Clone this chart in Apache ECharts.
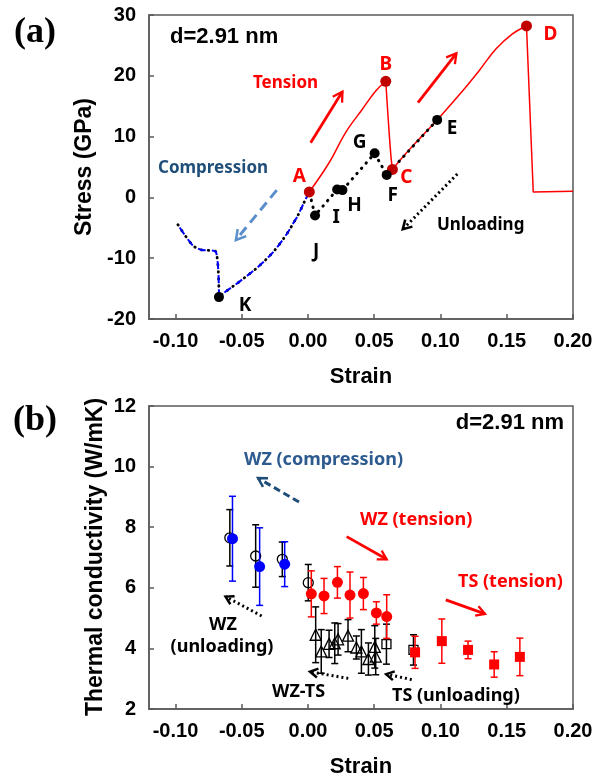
<!DOCTYPE html>
<html>
<head>
<meta charset="utf-8">
<script src="https://cdn.jsdelivr.net/npm/echarts@6/dist/echarts.min.js"></script>
<style>
  html, body { margin: 0; padding: 0; background: #fff; }
  #chart { width: 609px; height: 780px; }
</style>
</head>
<body>
<div id="chart"></div>
<script>
// ---------- panel (a): stress vs strain ----------
// tension branch: A -> B (0..5), B -> C drop (5..8), C -> E -> D (8..16), failure drop and tail (16..18)
const tensionStrain = [0.001, 0.0159, 0.0285, 0.041, 0.0511, 0.0587, 0.0605, 0.0625, 0.0637, 0.075, 0.0865, 0.0975, 0.1166, 0.129, 0.1418, 0.1543, 0.1649, 0.170, 0.20];
const tensionStress = [0.9, 5.7, 10.7, 14.5, 17.5, 19.1, 13.0, 7.0, 4.6, 7.5, 10.2, 12.75, 17.5, 20.8, 24.4, 26.9, 28.2, 0.9, 1.0];

// compression branch: A -> K (0..7), then the jump and tail (7..11)
const compStrain = [0.001, -0.0018, -0.0093, -0.0219, -0.0345, -0.0496, -0.0634, -0.0672, -0.0697, -0.081, -0.0874, -0.0987];
const compStress = [0.9, -0.3, -3.6, -7.8, -10.8, -13.5, -15.7, -16.4, -8.9, -8.6, -7.8, -4.3];

// unloading path E -> F -> G -> H -> I -> J -> A, then it follows the compression branch
const unloadStrain = [0.0975, 0.0594, 0.0503, 0.026, 0.022, 0.0053, 0.001];
const unloadStress = [12.75, 3.7, 7.25, 1.2, 1.3, -2.97, 0.9];

const redKeyNames = ['A', 'B', 'C', 'D'];
const redKeyStrain = [0.001, 0.0587, 0.0637, 0.1649];
const redKeyStress = [0.9, 19.1, 4.6, 28.2];

const blackKeyNames = ['E', 'F', 'G', 'H', 'I', 'J', 'K'];
const blackKeyStrain = [0.0975, 0.0594, 0.0503, 0.026, 0.022, 0.0053, -0.0672];
const blackKeyStress = [12.75, 3.7, 7.25, 1.2, 1.3, -2.97, -16.4];

// ---------- panel (b): thermal conductivity vs strain ----------
const wzCompStrain = [-0.057, -0.0365, -0.0176];
const wzCompK = [7.62, 6.70, 6.78];
const wzCompErr = [1.40, 1.28, 0.74];

const wzUnloadStrain = [-0.059, -0.0395, -0.0194, 0.0002];
const wzUnloadK = [7.65, 7.05, 6.94, 6.17];
const wzUnloadErr = [0.93, 1.03, 0.57, 0.60];

const wzTensStrain = [0.0025, 0.0121, 0.0222, 0.0317, 0.0418, 0.0516, 0.0594];
const wzTensK = [5.80, 5.73, 6.18, 5.76, 5.81, 5.17, 5.05];
const wzTensErr = [0.76, 0.58, 0.52, 0.76, 0.53, 0.37, 0.72];

const tsTensStrain = [0.0808, 0.101, 0.1208, 0.1405, 0.1599];
const tsTensK = [3.87, 4.24, 3.95, 3.47, 3.72];
const tsTensErr = [0.53, 0.73, 0.29, 0.42, 0.62];

const tsUnloadStrain = [0.0592, 0.0796];
const tsUnloadK = [4.14, 3.95];
const tsUnloadErr = [0.66, 0.50];

const wztsStrain = [0.0058, 0.010, 0.0159, 0.0202, 0.0227, 0.0302, 0.0365, 0.0403, 0.0456, 0.0504, 0.0511];
const wztsK = [4.45, 3.90, 4.15, 4.17, 4.30, 4.42, 4.03, 3.90, 3.65, 4.05, 3.73];
const wztsErr = [0.92, 0.72, 0.45, 0.67, 0.52, 0.53, 0.38, 0.72, 0.53, 0.70, 0.60];

// ---------- axes ----------
const strainTicks = [-0.10, -0.05, 0.00, 0.05, 0.10, 0.15, 0.20];

// ---------- annotation arrows [x1, y1, x2, y2] in data units ----------
const arrowsTensionA = [[0.002, 9.0, 0.026, 17.4], [0.083, 15.6, 0.112, 23.7]];
const arrowsCompA = [[-0.0236, 1.2, -0.0544, -7.0]];
const arrowsUnloadA = [[0.1127, 3.85, 0.0715, -5.25]];
const arrowsCompB = [[-0.0068, 8.83, -0.0377, 9.62]];
const arrowsTensB = [[0.0292, 7.69, 0.0594, 6.94], [0.104, 5.60, 0.1336, 5.14]];
const arrowsUnloadB = [[-0.035, 5.07, -0.0622, 5.71], [0.0304, 3.01, 0.0015, 3.23], [0.0783, 2.97, 0.059, 3.15]];

const zip = (xs, ys) => xs.map((x, i) => [x, ys[i]]);
const zip3 = (xs, ys, es) => xs.map((x, i) => [x, ys[i], es[i]]);

const labelOffsets = {
  A: [-10, -15], B: [0, -17], C: [14, 8], D: [24, 9],
  E: [15, 9], F: [6, 21], G: [-15, -11], H: [12, 15], I: [-1, 28], J: [1, 36], K: [26, 8]
};

const AXIS_COLOR = '#595959';
const tickFont = { fontFamily: 'Liberation Sans', fontWeight: 'bold', fontSize: 20, color: '#000' };

function strainAxis(gridIndex) {
  return {
    type: 'value', gridIndex, min: -0.12, max: 0.20,
    axisLine: { show: true, onZero: false, lineStyle: { color: AXIS_COLOR, width: 1.5 } },
    axisTick: { show: true, inside: true, length: 5, customValues: strainTicks, lineStyle: { color: AXIS_COLOR, width: 1.5 } },
    axisLabel: Object.assign({ margin: 12, customValues: strainTicks, formatter: v => v.toFixed(2) }, tickFont),
    splitLine: { show: false }
  };
}
function valueAxis(gridIndex, min, max, interval) {
  return {
    type: 'value', gridIndex, min, max, interval,
    axisLine: { show: true, onZero: false, lineStyle: { color: AXIS_COLOR, width: 1.5 } },
    axisTick: { show: true, inside: true, length: 5, lineStyle: { color: AXIS_COLOR, width: 1.5 } },
    axisLabel: Object.assign({ margin: 13 }, tickFont),
    splitLine: { show: false }
  };
}

// one piece of a stress-strain path, taken from index `from` to index `to` of the arrays
function pathPiece(xs, ys, from, to, lineStyle, smooth, z) {
  return {
    type: 'line', xAxisIndex: 0, yAxisIndex: 0, z: z, silent: true, showSymbol: false,
    smooth: smooth, data: zip(xs.slice(from, to + 1), ys.slice(from, to + 1)), lineStyle: lineStyle
  };
}

function arrowSeries(axisIdx, data, color, width, dash, headLen) {
  return {
    type: 'custom', xAxisIndex: axisIdx, yAxisIndex: axisIdx, silent: true, z: 6,
    data: data,
    encode: { x: [0, 2], y: [1, 3] },
    renderItem: function (params, api) {
      const p1 = api.coord([api.value(0), api.value(1)]);
      const p2 = api.coord([api.value(2), api.value(3)]);
      const ang = Math.atan2(p2[1] - p1[1], p2[0] - p1[0]);
      const a = Math.PI / 6;
      const h1 = [p2[0] - headLen * Math.cos(ang - a), p2[1] - headLen * Math.sin(ang - a)];
      const h2 = [p2[0] - headLen * Math.cos(ang + a), p2[1] - headLen * Math.sin(ang + a)];
      return {
        type: 'group',
        children: [
          { type: 'line', shape: { x1: p1[0], y1: p1[1], x2: p2[0], y2: p2[1] },
            style: { stroke: color, lineWidth: width, lineDash: dash } },
          { type: 'polyline', shape: { points: [h1, p2, h2] },
            style: { stroke: color, lineWidth: Math.max(2, width - 0.5), fill: 'none', lineJoin: 'miter' } }
        ]
      };
    }
  };
}

function errorSeries(data, color, z) {
  return {
    type: 'custom', xAxisIndex: 1, yAxisIndex: 1, silent: true, z: z,
    data: data,
    encode: { x: 0, y: 1 },
    renderItem: function (params, api) {
      const x = api.value(0), y = api.value(1), e = api.value(2);
      const top = api.coord([x, y + e]);
      const bot = api.coord([x, y - e]);
      const hw = 3.5;
      const st = { stroke: color, lineWidth: 1.5 };
      return {
        type: 'group',
        children: [
          { type: 'line', shape: { x1: top[0], y1: top[1], x2: bot[0], y2: bot[1] }, style: st },
          { type: 'line', shape: { x1: top[0] - hw, y1: top[1], x2: top[0] + hw, y2: top[1] }, style: st },
          { type: 'line', shape: { x1: bot[0] - hw, y1: bot[1], x2: bot[0] + hw, y2: bot[1] }, style: st }
        ]
      };
    }
  };
}

function markerSeries(data, symbol, size, fill, stroke, z) {
  return {
    type: 'scatter', xAxisIndex: 1, yAxisIndex: 1, z: z, silent: true,
    symbol: symbol, symbolSize: size,
    itemStyle: { color: fill, borderColor: stroke, borderWidth: stroke ? 1.3 : 0, opacity: 1 },
    data: data
  };
}

function keySeries(names, xs, ys, dotColor, labelColor, size) {
  return {
    type: 'scatter', xAxisIndex: 0, yAxisIndex: 0, z: 10, silent: true,
    symbolSize: size, itemStyle: { color: dotColor, opacity: 1 },
    label: { show: true, position: 'inside', formatter: '{b}', color: labelColor,
      fontFamily: 'Noto Sans', fontWeight: 'bold', fontSize: 19 },
    data: names.map((n, i) => ({ name: n, value: [xs[i], ys[i]], label: { offset: labelOffsets[n] } }))
  };
}

const annoFont = 'bold 17px "Noto Sans"';
const annoFontB = 'bold 18px "Noto Sans"';
function txt(text, x, y, color, font, align, rotation) {
  return {
    type: 'text', x: x, y: y, rotation: rotation || 0, silent: true, z: 20,
    style: { text: text, fill: color, font: font || annoFont, textAlign: align || 'left', textVerticalAlign: 'middle' }
  };
}

const redLine = { color: '#ff0000', width: 1.5 };
const blueDash = { color: '#0000ff', width: 2, type: [8, 6] };
const blackDots = { color: '#000', width: 3, type: [0.5, 6.5], cap: 'round' };
const blackDotsUnder = { color: '#000', width: 2.8, type: [0.5, 6.5], cap: 'round', dashOffset: 3 };

// combined unloading path (unloading part followed by the compression branch)
const unloadAllStrain = unloadStrain.concat(compStrain.slice(1));
const unloadAllStress = unloadStress.concat(compStress.slice(1));
const nU = unloadStrain.length - 1;

const chart = echarts.init(document.getElementById('chart'));
chart.setOption({
  animation: false,
  backgroundColor: '#fff',
  grid: [
    { left: 149, top: 15, width: 424, height: 304, show: true, borderColor: AXIS_COLOR, borderWidth: 1.5 },
    { left: 149, top: 406, width: 424, height: 303, show: true, borderColor: AXIS_COLOR, borderWidth: 1.5 }
  ],
  xAxis: [strainAxis(0), strainAxis(1)],
  yAxis: [valueAxis(0, -20, 30, 10), valueAxis(1, 2, 12, 2)],
  series: [
    // (a) tension branch
    pathPiece(tensionStrain, tensionStress, 0, 5, redLine, 0.4, 2),
    pathPiece(tensionStrain, tensionStress, 5, 8, redLine, 0.3, 2),
    pathPiece(tensionStrain, tensionStress, 8, 16, redLine, 0.4, 2),
    pathPiece(tensionStrain, tensionStress, 16, 18, redLine, false, 2),
    // (a) unloading, dotted black
    pathPiece(unloadAllStrain, unloadAllStress, 0, nU, blackDots, false, 4),
    pathPiece(unloadAllStrain, unloadAllStress, nU, nU + 7, blackDotsUnder, 0.4, 3),
    pathPiece(unloadAllStrain, unloadAllStress, nU + 7, unloadAllStrain.length - 1, blackDotsUnder, 0.3, 3),
    // (a) compression branch, dashed blue drawn over the dots
    pathPiece(compStrain, compStress, 0, 7, blueDash, 0.4, 4),
    pathPiece(compStrain, compStress, 7, compStrain.length - 1, blueDash, 0.3, 4),
    keySeries(redKeyNames, redKeyStrain, redKeyStress, '#c00000', '#ff0000', 11),
    keySeries(blackKeyNames, blackKeyStrain, blackKeyStress, '#000', '#000', 10),
    arrowSeries(0, arrowsTensionA, '#ff0000', 2.8, null, 11),
    arrowSeries(0, arrowsCompA, '#5b8fcc', 3, [10, 6], 11),
    arrowSeries(0, arrowsUnloadA, '#000', 3, [2, 3], 10),

    // (b) error bars and markers
    errorSeries(zip3(wztsStrain, wztsK, wztsErr), '#000', 2),
    errorSeries(zip3(wzUnloadStrain, wzUnloadK, wzUnloadErr), '#000', 2),
    errorSeries(zip3(tsUnloadStrain, tsUnloadK, tsUnloadErr), '#000', 2),
    markerSeries(zip(wztsStrain, wztsK), 'triangle', 11, 'rgba(255,255,255,0)', '#000', 3),
    markerSeries(zip(wzUnloadStrain, wzUnloadK), 'circle', 10, 'rgba(255,255,255,0)', '#000', 3),
    markerSeries(zip(tsUnloadStrain, tsUnloadK), 'rect', 9, 'rgba(255,255,255,0)', '#000', 3),
    errorSeries(zip3(wzCompStrain, wzCompK, wzCompErr), '#0000ff', 4),
    errorSeries(zip3(wzTensStrain, wzTensK, wzTensErr), '#ff0000', 4),
    errorSeries(zip3(tsTensStrain, tsTensK, tsTensErr), '#ff0000', 4),
    markerSeries(zip(wzCompStrain, wzCompK), 'circle', 11, '#0000ff', null, 5),
    markerSeries(zip(wzTensStrain, wzTensK), 'circle', 11, '#ff0000', null, 5),
    markerSeries(zip(tsTensStrain, tsTensK), 'rect', 10, '#ff0000', null, 5),
    arrowSeries(1, arrowsCompB, '#1f4e79', 3, [7, 4], 10),
    arrowSeries(1, arrowsTensB, '#ff0000', 2.8, null, 10),
    arrowSeries(1, arrowsUnloadB, '#000', 3, [2, 3], 9)
  ],
  graphic: [
    txt('(a)', 14, 33, '#000', 'bold 36px "Liberation Serif"'),
    txt('(b)', 13, 421, '#000', 'bold 36px "Liberation Serif"'),
    txt('Stress (GPa)', 85, 167, '#000', 'bold 23px "Liberation Sans"', 'center', Math.PI / 2),
    txt('Thermal conductivity (W/mK)', 96, 557, '#000', 'bold 23px "Liberation Sans"', 'center', Math.PI / 2),
    txt('Strain', 361, 377, '#000', 'bold 22px "Liberation Sans"', 'center'),
    txt('Strain', 361, 767, '#000', 'bold 22px "Liberation Sans"', 'center'),
    txt('d=2.91 nm', 170, 37, '#000', 'bold 22px "Liberation Sans"'),
    txt('d=2.91 nm', 564, 423, '#000', 'bold 22px "Liberation Sans"', 'right'),
    txt('Tension', 253, 83, '#ff0000'),
    txt('Compression', 158, 168, '#1f4e79'),
    txt('Unloading', 437, 225, '#000'),
    txt('WZ (compression)', 244, 460, '#2e5b8f', annoFontB),
    txt('WZ (tension)', 360, 520, '#ff0000', annoFontB),
    txt('TS (tension)', 458, 582, '#ff0000', annoFontB),
    txt('WZ', 223, 625, '#000', annoFontB, 'center'),
    txt('(unloading)', 222, 647, '#000', annoFontB, 'center'),
    txt('WZ-TS', 272, 692, '#000', annoFontB),
    txt('TS (unloading)', 392, 696, '#000', annoFontB)
  ]
});
</script>
</body>
</html>
